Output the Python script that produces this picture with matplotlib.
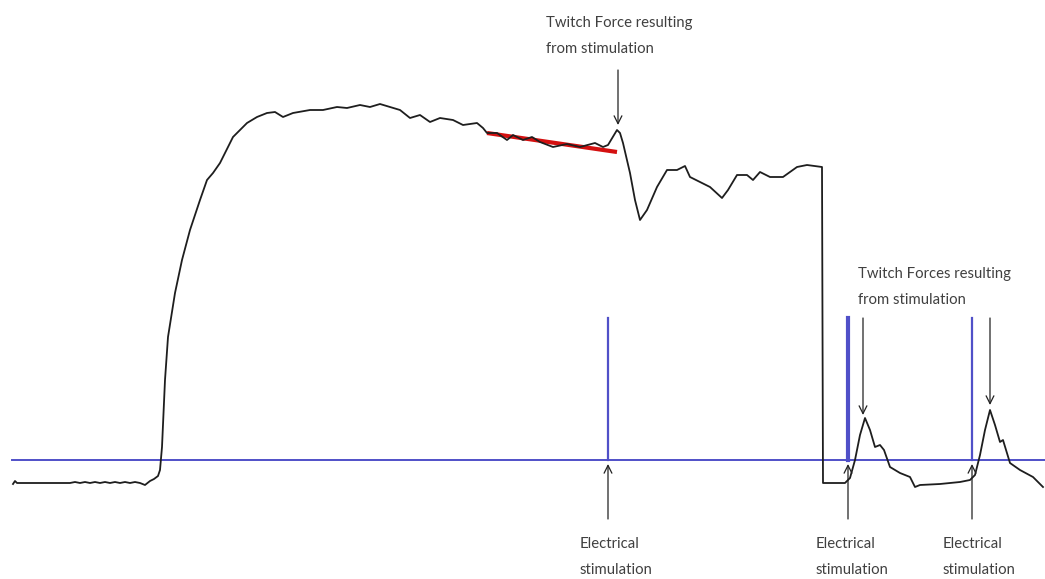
import matplotlib
matplotlib.use("Agg")
import matplotlib.pyplot as plt
import numpy as np

# force trace (time in s, force in arbitrary units)
time = [1.3, 1.5, 1.7, 7.0, 7.5, 8.0, 8.5, 9.0, 9.5, 10.0, 10.5, 11.0, 11.5, 12.0,
        12.5, 13.0, 13.5, 14.0, 14.5, 15.0, 15.4, 15.8, 16.0, 16.2, 16.5, 16.8,
        17.5, 18.2, 19.0, 20.0, 20.7, 21.3, 22.0, 23.3, 24.7, 25.7, 26.7, 27.5,
        28.3, 29.3, 31.0, 32.3, 33.7, 34.7, 36.0, 37.0, 38.0, 39.0, 40.0, 41.0,
        42.0, 43.0, 44.0, 45.3, 46.3, 47.7, 48.3, 48.7, 49.7, 50.7, 51.3, 52.3,
        53.2, 54.0, 55.3, 56.7, 58.0, 59.5, 60.3, 60.8, 61.7, 62.0, 62.3, 63.0,
        63.5, 64.0, 64.7, 65.7, 66.7, 67.7, 68.5, 69.0, 70.0, 71.0, 72.2, 72.8,
        73.7, 74.7, 75.3, 76.0, 77.0, 78.3, 79.7, 80.7, 82.2, 82.3, 84.5, 85.0,
        85.5, 86.0, 86.5, 87.0, 87.5, 88.0, 88.4, 89.0, 90.0, 91.0, 91.5, 92.0,
        94.0, 96.0, 97.0, 97.5, 98.0, 98.5, 99.0, 99.5, 100.0, 100.3, 101.0,
        102.0, 103.3, 104.3]
force = [-0.1, 0.2, 0.0, 0.0, 0.1, 0.0, 0.1, 0.0, 0.1, 0.0, 0.1, 0.0, 0.1, 0.0,
         0.1, 0.0, 0.1, 0.0, -0.2, 0.2, 0.4, 0.7, 1.3, 3.6, 10.3, 14.6,
         19.0, 22.3, 25.3, 28.3, 30.3, 31.0, 32.0, 34.6, 36.0, 36.6, 37.0, 37.1,
         36.6, 37.0, 37.3, 37.3, 37.6, 37.5, 37.8, 37.6, 37.9, 37.6, 37.3, 36.5,
         36.8, 36.1, 36.5, 36.3, 35.8, 36.0, 35.5, 35.0, 35.0, 34.3, 34.8, 34.3,
         34.6, 34.1, 33.6, 33.9, 33.6, 34.0, 33.6, 33.8, 35.3, 35.0, 34.0, 31.0,
         28.3, 26.3, 27.3, 29.6, 31.3, 31.3, 31.7, 30.6, 30.1, 29.6, 28.5, 29.3,
         30.8, 30.8, 30.3, 31.1, 30.6, 30.6, 31.6, 31.8, 31.6, 0.0, 0.0, 0.5,
         2.3, 4.8, 6.5, 5.3, 3.6, 3.8, 3.3, 1.6, 1.0, 0.6, -0.4, -0.2,
         -0.1, 0.1, 0.3, 0.8, 2.8, 5.3, 7.3, 5.8, 4.1, 4.3, 2.0,
         1.3, 0.6, -0.4]

# fatigue fit line before first stimulation
fit_time = [48.7, 61.7]
fit_force = [35.0, 33.1]

# electrical stimulation channel
stim_base = 2.3
stim_peak = 16.5
stim_times = [60.8, 84.8, 97.2]
stim_widths = [1.6, 3.0, 1.6]

fig = plt.figure(figsize=(10.45, 5.79), dpi=100)
ax = fig.add_axes([0, 0, 1, 1])
ax.set_xlim(0, 104.5)
ax.set_ylim(-9.6, 48.3)
ax.axis("off")

blue = "#5050c8"
ax.plot([1.2, 104.5], [stim_base, stim_base], color=blue, lw=1.4, zorder=1)
for t, w in zip(stim_times, stim_widths):
    ax.plot([t, t], [stim_base, stim_peak], color=blue, lw=w, zorder=1)

ax.plot(time, force, color="#1e1e1e", lw=1.3, zorder=3)
ax.plot(fit_time, fit_force, color="#d41010", lw=3.0, zorder=2, solid_capstyle="butt")

txt = dict(fontsize=10.7, color="#404040", family="Lato", linespacing=2.05, va="top", ha="left")
arrow = dict(arrowstyle="->", color="#222222", lw=0.9, mutation_scale=14, shrinkA=0, shrinkB=0)

# twitch annotations
ax.text(54.6, 46.7, "Twitch Force resulting\nfrom stimulation", **txt)
ax.annotate("", xy=(61.8, 35.8), xytext=(61.8, 41.3), arrowprops=arrow)
ax.text(85.8, 21.6, "Twitch Forces resulting\nfrom stimulation", **txt)
ax.annotate("", xy=(86.3, 6.8), xytext=(86.3, 16.5), arrowprops=arrow)
ax.annotate("", xy=(99.0, 7.8), xytext=(99.0, 16.5), arrowprops=arrow)

# stimulation annotations
for t, lx in zip(stim_times, [58.0, 81.6, 94.3]):
    ax.annotate("", xy=(t, 1.9), xytext=(t, -3.6), arrowprops=arrow)
    ax.text(lx, -5.4, "Electrical\nstimulation", **txt)

fig.savefig("out.png", dpi=100)
